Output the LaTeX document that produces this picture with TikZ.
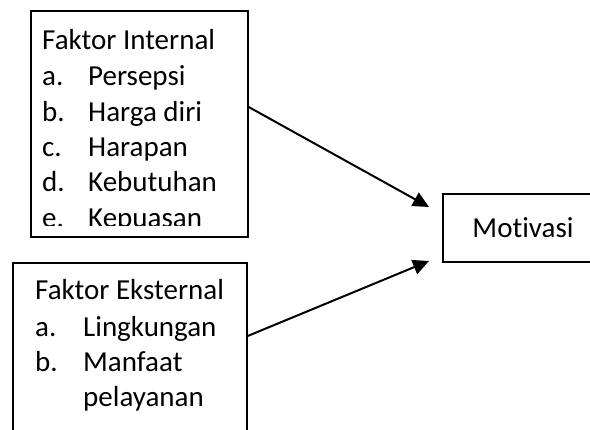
\documentclass[tikz,border=0pt]{standalone}
\usepackage{fontspec}
\setmainfont[RawFeature={-liga}]{Carlito}
\usetikzlibrary{arrows.meta}
\tikzset{
  kotak/.style={draw, line width=1.4pt, inner sep=0pt},
  baris/.style={anchor=base west, inner sep=0pt, font=\fontsize{29}{35}\selectfont},
  panah/.style={line width=2pt, -{Triangle[length=16pt,width=15pt]}}
}
\begin{document}
\begin{tikzpicture}[x=1pt,y=-1pt]
  \useasboundingbox (0,0) rectangle (590,430);

  \node[kotak, minimum width=217pt, minimum height=226pt] (internal) at (139.5,124) {};
  \node[kotak, minimum width=234pt, minimum height=200pt] (eksternal) at (130,363) {};
  \node[kotak, minimum width=160pt, minimum height=68pt, font=\fontsize{29}{35}\selectfont] (motivasi) at (523,228) {Motivasi};

  \begin{scope}
    \clip (31,11) rectangle (248,226);
    \node[baris] (judul1) at (42,50) {Faktor Internal};
    \node[baris] (a1) at (42,86) {a.};
    \node[baris] (persepsi) at (88,86) {Persepsi};
    \node[baris] (b1) at (42,122) {b.};
    \node[baris] (hargadiri) at (88,122) {Harga diri};
    \node[baris] (c1) at (42,157) {c.};
    \node[baris] (harapan) at (88,157) {Harapan};
    \node[baris] (d1) at (42,192) {d.};
    \node[baris] (kebutuhan) at (88,192) {Kebutuhan};
    \node[baris] (e1) at (42,228) {e.};
    \node[baris] (kepuasan) at (88,228) {Kepuasan};
  \end{scope}

  \node[baris] (judul2) at (35,300) {Faktor Eksternal};
  \node[baris] (a2) at (35,337) {a.};
  \node[baris] (lingkungan) at (83,337) {Lingkungan};
  \node[baris] (b2) at (35,372) {b.};
  \node[baris] (manfaat) at (83,372) {Manfaat};
  \node[baris] (pelayanan) at (83,407) {pelayanan};

  \coordinate (ujung1) at (429,207);
  \coordinate (ujung2) at (429,261);
  \draw[panah] ([yshift=17pt]internal.east) -- (ujung1);
  \draw[panah] ([yshift=27pt]eksternal.east) -- (ujung2);
\end{tikzpicture}
\end{document}
